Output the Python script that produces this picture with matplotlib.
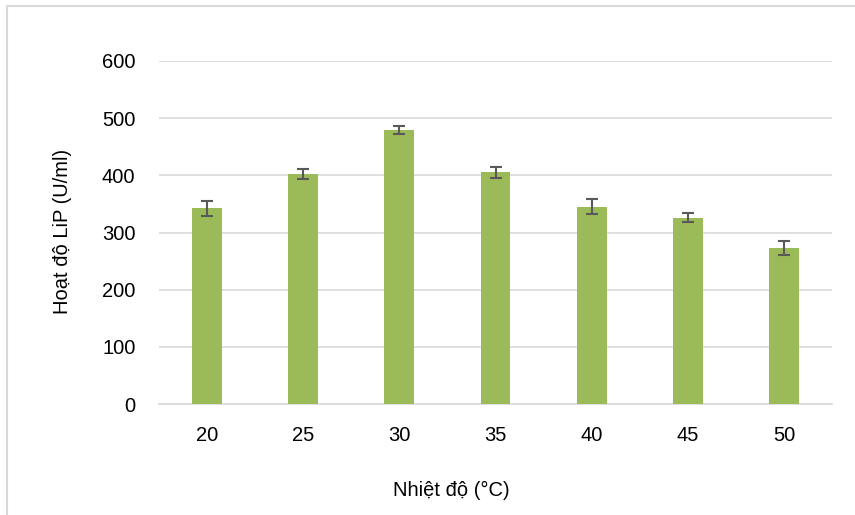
import matplotlib
matplotlib.use("Agg")
import matplotlib.pyplot as plt
from matplotlib.patches import Rectangle

plt.rcParams['font.family'] = ['Liberation Sans', 'DejaVu Sans']

# data
temps = ["20", "25", "30", "35", "40", "45", "50"]
activity = [342, 402, 479, 405, 345, 326, 273]
errors = [13, 9, 7.5, 9, 13, 7.5, 12]

W, H = 855, 515
fig = plt.figure(figsize=(W / 100, H / 100), dpi=100)
ax = fig.add_axes([159 / W, 1 - 404 / H, (832 - 159) / W, (404 - 61) / H])

x = range(len(temps))
ax.bar(x, activity, width=0.31, color="#9BBB59", zorder=3)
ax.errorbar(x, activity, yerr=errors, fmt="none", ecolor="#595959",
            elinewidth=1.5, capsize=4.5, capthick=1.5, zorder=4)

ax.set_xlim(-0.5, len(temps) - 0.5)
ax.set_ylim(0, 600)
ax.set_yticks(range(0, 601, 100))
ax.set_xticks(list(x))
ax.set_xticklabels(temps)
ax.yaxis.grid(True, color="#D9D9D9", linewidth=1.2, zorder=0)
for s in ["top", "right", "left"]:
    ax.spines[s].set_visible(False)
ax.spines["bottom"].set_color("#D9D9D9")
ax.spines["bottom"].set_linewidth(1.2)
ax.tick_params(axis="both", length=0, labelsize=14.5, colors="black")
ax.tick_params(axis="x", pad=16)
ax.tick_params(axis="y", pad=17)

fig.text(62 / W, 1 - 231 / H, "Hoạt độ LiP (U/ml)", rotation=90,
         ha="center", va="center", fontsize=14.5)
fig.text(451 / W, 1 - 490 / H, "Nhiệt độ (°C)", ha="center", va="center",
         fontsize=14.5)

# chart area border (only top and left visible in crop)
fig.patches.append(Rectangle((7 / W, -0.1), 1.2, 1 - 6 / H + 0.1,
                             transform=fig.transFigure, fill=False,
                             edgecolor="#D9D9D9", linewidth=1.5))

fig.savefig("out.png", dpi=100)
